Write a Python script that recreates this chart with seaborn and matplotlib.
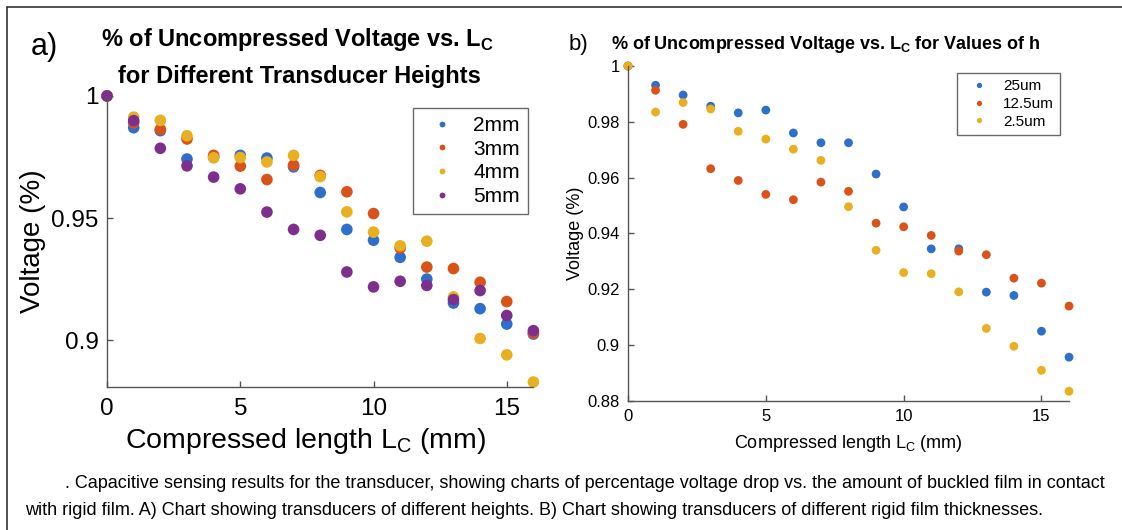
import numpy as np
import pandas as pd
import matplotlib
matplotlib.use("Agg")
import matplotlib.pyplot as plt
import seaborn as sns


# ----------------------- Data
lc = list(range(17))

v_2mm = [1.0, 0.987, 0.9858, 0.9742, 0.975, 0.9757, 0.9746, 0.971, 0.9605, 0.9454,
         0.941, 0.934, 0.9251, 0.9153, 0.913, 0.9067, 0.9026]
v_3mm = [1.0, 0.989, 0.9863, 0.9824, 0.9757, 0.9713, 0.9658, 0.9717, 0.9675, 0.9608,
         0.9519, 0.9378, 0.930, 0.9294, 0.9238, 0.9159, 0.903]
v_4mm = [1.0, 0.9913, 0.990, 0.9837, 0.9747, 0.9748, 0.973, 0.9757, 0.967, 0.9526,
         0.9443, 0.9387, 0.9406, 0.9178, 0.9008, 0.8941, 0.883]
v_5mm = [1.0, 0.9899, 0.9786, 0.9714, 0.9668, 0.962, 0.9525, 0.9454, 0.943, 0.928,
         0.9219, 0.9242, 0.9225, 0.9167, 0.9204, 0.9102, 0.904]

v_25um = [1.0, 0.9931, 0.9896, 0.9856, 0.9832, 0.9842, 0.976, 0.9725, 0.9725, 0.9613,
          0.9495, 0.9345, 0.9345, 0.919, 0.9178, 0.905, 0.8957]
v_12um = [1.0, 0.9913, 0.9791, 0.9632, 0.959, 0.954, 0.9521, 0.9584, 0.9551, 0.9437,
          0.9424, 0.9393, 0.9337, 0.9324, 0.924, 0.9222, 0.914]
v_2um = [1.0, 0.9835, 0.9869, 0.9846, 0.9766, 0.9738, 0.9702, 0.9662, 0.9496, 0.934,
         0.926, 0.9256, 0.9191, 0.906, 0.8996, 0.891, 0.8835]

heights = ["2mm", "3mm", "4mm", "5mm"]
thick = ["25um", "12.5um", "2.5um"]

matlab_cols = ["#2e6fcc", "#d95319", "#e8b020", "#7e2f8e"]


# ----------------------- Long form tables
df_a = pd.DataFrame({
    "Lc": lc * 4,
    "Voltage": v_2mm + v_3mm + v_4mm + v_5mm,
    "Height": [h for h in heights for _ in lc]
})

df_b = pd.DataFrame({
    "Lc": lc * 3,
    "Voltage": v_25um + v_12um + v_2um,
    "Film": [t for t in thick for _ in lc]
})


# ----------------------- Style
sns.set_theme(style="white")
plt.rcParams["font.family"] = ["Liberation Sans", "DejaVu Sans"]
plt.rcParams["mathtext.fontset"] = "custom"
plt.rcParams["mathtext.rm"] = "Liberation Sans"
plt.rcParams["mathtext.bf"] = "Liberation Sans:bold"
plt.rcParams["text.color"] = "black"
plt.rcParams["axes.labelcolor"] = "black"
plt.rcParams["xtick.color"] = "black"
plt.rcParams["ytick.color"] = "black"

spine_col = "#555555"

fig = plt.figure(figsize=(11.22, 5.30), dpi=100)
fig.patch.set_facecolor("white")


def matlab_axes(ax, tick_size):
    for side in ["top", "right"]:
        ax.spines[side].set_visible(False)
    for side in ["left", "bottom"]:
        ax.spines[side].set_color(spine_col)
        ax.spines[side].set_linewidth(1.0)
    ax.tick_params(direction="in", length=4, width=1, color=spine_col,
                   labelcolor="black", labelsize=tick_size,
                   left=True, bottom=True, pad=6)
    ax.yaxis.set_major_formatter(matplotlib.ticker.FormatStrFormatter("%g"))


# ----------------------- Panel a
ax1 = fig.add_axes([0.0954, 0.270, 0.380, 0.549])

sns.scatterplot(
    data=df_a, x="Lc", y="Voltage", hue="Height",
    hue_order=heights, palette=matlab_cols,
    s=70, edgecolor="none", ax=ax1
)

ax1.set_xlim(0, 16)
ax1.set_ylim(0.881, 1.0)
ax1.set_xticks([0, 5, 10, 15])
ax1.set_yticks([0.9, 0.95, 1.0])
matlab_axes(ax1, 17.5)
ax1.tick_params(axis="x", pad=8)
for c in ax1.collections:
    c.set_clip_on(False)

ax1.set_xlabel(r"Compressed length L$_\mathrm{C}$ (mm)", fontsize=20.5, labelpad=6)
ax1.xaxis.set_label_coords(0.465, -0.135)
ax1.set_ylabel("Voltage (%)", fontsize=20, labelpad=4)

leg1 = ax1.legend(
    loc="upper right", bbox_to_anchor=(0.988, 0.959), fontsize=15,
    frameon=True, fancybox=False, edgecolor="#444444", borderaxespad=0,
    markerscale=0.5, handletextpad=0.5, borderpad=0.4, labelspacing=0.22
)
leg1.get_frame().set_linewidth(1.0)

fig.text(0.265, 0.925, r"% of Uncompressed Voltage vs. L$_\mathbf{C}$",
         ha="center", va="center", fontsize=17, fontweight="bold")
fig.text(0.267, 0.855, "for Different Transducer Heights",
         ha="center", va="center", fontsize=17, fontweight="bold")
fig.text(0.027, 0.912, "a)", ha="left", va="center", fontsize=22)


# ----------------------- Panel b
ax2 = fig.add_axes([0.5597, 0.2434, 0.3931, 0.6321])

sns.scatterplot(
    data=df_b, x="Lc", y="Voltage", hue="Film",
    hue_order=thick, palette=matlab_cols[:3],
    s=40, edgecolor="none", ax=ax2
)

ax2.set_xlim(0, 16)
ax2.set_ylim(0.88, 1.0)
ax2.set_xticks([0, 5, 10, 15])
ax2.set_yticks([0.88, 0.9, 0.92, 0.94, 0.96, 0.98, 1.0])
matlab_axes(ax2, 12)
for c in ax2.collections:
    c.set_clip_on(False)

ax2.set_xlabel(r"Compressed length L$_\mathrm{C}$ (mm)", fontsize=13, labelpad=6)
ax2.set_ylabel("Voltage (%)", fontsize=13, labelpad=2)

leg2 = ax2.legend(
    loc="upper right", bbox_to_anchor=(0.98, 0.979), fontsize=11,
    frameon=True, fancybox=False, edgecolor="#444444", borderaxespad=0,
    markerscale=0.6, handletextpad=0.6, borderpad=0.4, labelspacing=0.25
)
leg2.get_frame().set_linewidth(1.0)

fig.text(0.545, 0.916, r"% of Uncompressed Voltage vs. L$_\mathbf{C}$ for Values of h",
         ha="left", va="center", fontsize=13, fontweight="bold")
fig.text(0.507, 0.916, "b)", ha="left", va="center", fontsize=16)


# ----------------------- Caption and frame
cap_font = ["Liberation Sans Narrow", "Liberation Sans", "DejaVu Sans"]
fig.text(0.058, 0.087,
         ". Capacitive sensing results for the transducer, showing charts of percentage "
         "voltage drop vs. the amount of buckled film in contact",
         ha="left", va="center", fontsize=13, family=cap_font)
fig.text(0.022, 0.037,
         "with rigid film. A) Chart showing transducers of different heights. "
         "B) Chart showing transducers of different rigid film thicknesses.",
         ha="left", va="center", fontsize=13, family=cap_font)

fig.add_artist(plt.Line2D([0.0062, 1.0], [0.987, 0.987], color="#333333", lw=1.2))
fig.add_artist(plt.Line2D([0.0062, 0.0062], [0.0, 0.987], color="#333333", lw=1.2))

fig.savefig("out.png", dpi=100)
